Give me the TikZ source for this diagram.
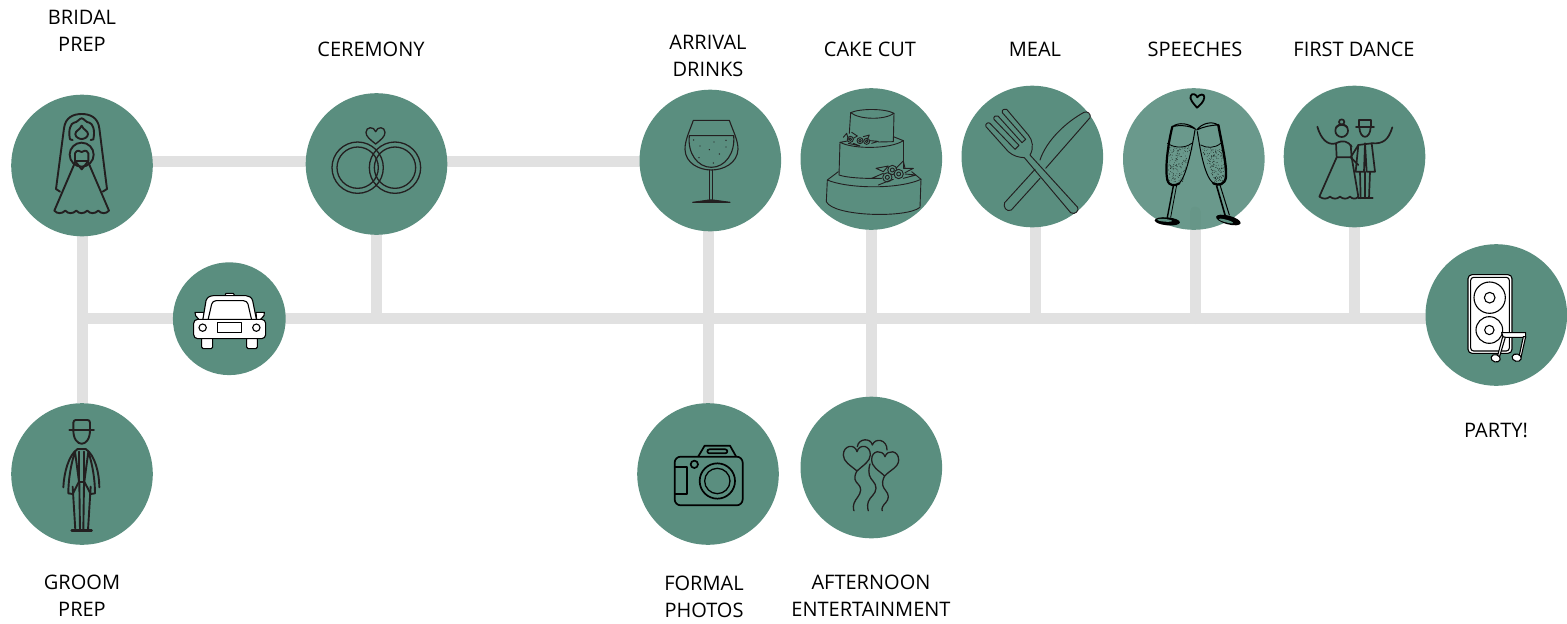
\documentclass[tikz,border=0pt]{standalone}
\usepackage{fontspec}
\setmainfont{Open Sans}
\usetikzlibrary{backgrounds}
\definecolor{bubblec}{HTML}{5A8E7F}
\definecolor{railc}{HTML}{E1E1E1}
\definecolor{inkc}{HTML}{231F20}
\tikzset{
  bubble/.style={circle,fill=bubblec,draw=none,inner sep=0pt,outer sep=0pt,minimum size=141.6pt},
  rail/.style={draw=railc,line width=11pt},
  lbl/.style={align=center,font=\fontsize{20}{27}\selectfont,text=black,inner sep=0pt},
  zoomed/.style 2 args={shift={(#1,#2)},x=0.33333pt,y=-0.33333pt},
  ink/.style={draw=inkc,line width=1.9pt,line cap=round,line join=round},
  car ink/.style={draw=black,line width=1.1pt,line join=round,fill=white}
}
\begin{document}
\begin{tikzpicture}[x=1pt,y=-1pt]
\useasboundingbox (0,0) rectangle (1567,624);
% bubbles
\node[bubble] (bride) at (82,165.5) {};
\node[bubble] (rings) at (376.5,164) {};
\node[bubble] (wine) at (710.3,160.5) {};
\node[bubble] (cake) at (871.3,159) {};
\node[bubble] (meal) at (1032.3,156.5) {};
\node[bubble,fill opacity=.9] (speech) at (1193.8,159) {};
\node[bubble] (dance) at (1354.5,156.5) {};
\node[bubble] (party) at (1496.3,315) {};
\node[bubble,minimum size=112.8pt] (car) at (229.3,318.7) {};
\node[bubble] (groom) at (82,474) {};
\node[bubble] (photo) at (708,474) {};
\node[bubble] (balloon) at (871.3,467.5) {};
% junctions
\coordinate (jleft) at (82,318.5);
\coordinate (jrings) at (376.5,318.5);
\coordinate (jwine) at (708.5,318.5);
\coordinate (jcake) at (871.5,318.5);
\coordinate (jmeal) at (1035.5,318.5);
\coordinate (jspeech) at (1195,318.5);
\coordinate (jdance) at (1354.5,318.5);
\coordinate (sstart) at (1195,212);
\begin{scope}[on background layer]
\draw[rail] ([yshift=-1pt]bride.center |- wine.center) -- ([yshift=-1pt]wine.center);
\draw[rail] (bride) -- (groom);
\draw[rail] (jleft) -- (jleft -| party.center);
\draw[rail] (jrings |- rings.center) -- (jrings);
\draw[rail] (jwine |- wine.center) -- (jwine |- photo.center);
\draw[rail] (jcake |- cake.center) -- (jcake |- balloon.center);
\draw[rail] (jmeal |- meal.center) -- (jmeal);
\draw[rail,line cap=round] (sstart) -- (jspeech);
\draw[rail] (jdance |- dance.center) -- (jdance);
\end{scope}
% labels
\node[lbl] (t1) at (82,31) {BRIDAL\\PREP};
\node[lbl] (t2) at (371,49) {CEREMONY};
\node[lbl] (t3) at (708,55.5) {ARRIVAL\\DRINKS};
\node[lbl] (t4) at (870,49) {CAKE CUT};
\node[lbl] (t5) at (1035,49) {MEAL};
\node[lbl] (t6) at (1195,49) {SPEECHES};
\node[lbl] (t7) at (1354,49) {FIRST DANCE};
\node[lbl] (t8) at (1496,430) {PARTY!};
\node[lbl] (t9) at (82,595.5) {GROOM\\PREP};
\node[lbl] (t10) at (704,596.5) {FORMAL\\PHOTOS};
\node[lbl] (t11) at (871,595.5) {AFTERNOON\\ENTERTAINMENT};
% ---- bride
\begin{scope}[zoomed={0}{80},ink]
\draw (180,335)--(168,327)--(192,145) .. controls (196,112) and (220,102) .. (245,102) .. controls (270,102) and (294,112) .. (298,145) -- (321,327)--(308,335);
\draw (218,180)--(210,178) .. controls (204,150) and (212,130) .. (222,128) .. controls (232,128) and (238,115) .. (245,115) .. controls (252,115) and (258,128) .. (268,128) .. controls (278,130) and (286,150) .. (280,178) -- (272,180);
\draw (245,137) .. controls (240,150) and (226,152) .. (226,162) .. controls (226,172) and (238,177) .. (245,177) .. controls (252,177) and (264,172) .. (264,162) .. controls (264,152) and (250,150) .. (245,137);
\draw (245,224) circle (36);
\draw (225,243) -- (225,220) .. controls (230,208) and (240,212) .. (245,216) .. controls (250,212) and (260,208) .. (265,220) -- (265,243) -- cycle;
\draw (225,243) -- (245,268) -- (265,243);
\draw (226,245) -- (163,392) .. controls (172,402) and (185,402) .. (196,392) .. controls (205,402) and (218,402) .. (229,392) .. controls (238,402) and (251,402) .. (262,392) .. controls (271,402) and (284,402) .. (295,392) .. controls (304,402) and (318,402) .. (327,392) -- (264,245);
\end{scope}
% ---- rings
\begin{scope}[zoomed={0}{80},ink,line width=1.3pt]
\draw (1073,263) circle (77) (1073,263) circle (62);
\draw (1185,263) circle (77) (1185,263) circle (62);
\draw (1127,192) .. controls (1110,178) and (1098,170) .. (1098,157) .. controls (1098,140) and (1122,138) .. (1127,155) .. controls (1132,138) and (1155,140) .. (1155,157) .. controls (1155,170) and (1144,178) .. (1127,192) -- cycle;
\end{scope}
% ---- wine
\begin{scope}[zoomed={630}{80},ink,line width=1.1pt]
\draw (190,121) -- (298,121) .. controls (310,155) and (324,180) .. (324,208) .. controls (322,250) and (280,270) .. (244,270) .. controls (208,270) and (166,250) .. (165,208) .. controls (165,180) and (178,155) .. (190,121) -- cycle;
\draw (178,167) -- (311,167) .. controls (316,220) and (285,262) .. (244,262) .. controls (203,262) and (172,220) .. (178,167) -- cycle;
\draw (238,270) -- (238,358) (248,270) -- (248,358);
\draw[fill=inkc] (188,367) -- (238,360) -- (248,360) -- (300,367) -- cycle;
\foreach \p in {(191,180),(210,198),(252,186),(288,181),(238,209),(288,201),(268,222),(207,233),(250,249)}
  \fill[inkc] \p circle (2.2);
\end{scope}
% ---- cake
\begin{scope}[zoomed={630}{80},ink,line width=.9pt]
\draw (662,98) .. controls (690,85) and (765,85) .. (792,100) .. controls (765,120) and (690,120) .. (662,98) -- cycle;
\draw (662,98) -- (658,160) (792,100) -- (790,185) -- (745,186);
\draw (658,182) -- (630,187) .. controls (670,208) and (780,208) .. (820,182) -- (790,170);
\draw (630,187) -- (627,285) .. controls (650,293) and (700,296) .. (740,295);
\draw (820,182) -- (820,265);
\draw (625,275) -- (592,300) .. controls (650,325) and (800,330) .. (873,298) -- (845,275);
\draw (592,300) -- (589,365) .. controls (610,410) and (830,415) .. (870,382) -- (873,298);
\foreach \c in {(661,178),(690,182),(710,184)} \draw[fill=bubblec] \c circle (9) \c circle (4);
\draw (640,172) -- (650,160) -- (655,178) (665,157) -- (682,168) -- (670,175) (700,170) -- (718,165) -- (712,178) (720,182) -- (745,184) -- (725,190) (655,190) -- (690,198) -- (670,190);
\foreach \c in {(772,292),(787,270),(806,282)} \draw[fill=bubblec] \c circle (14) \c circle (6);
\draw (738,265) -- (775,258) -- (760,275) -- (738,265);
\draw (798,265) -- (820,243) -- (825,265);
\draw (822,265) -- (850,265) -- (825,278);
\draw (825,282) -- (858,285) -- (820,295);
\draw (760,280) -- (725,295) -- (755,295);
\draw (745,315) -- (770,305) -- (790,298);
\end{scope}
% ---- meal
\begin{scope}[zoomed={630}{80},ink,line width=.95pt]
\draw (1230,240) .. controls (1250,180) and (1310,125) .. (1362,97) .. controls (1372,92) and (1384,102) .. (1380,113) -- (1247,265);
\draw (1215,268) -- (1124,368) .. controls (1118,380) and (1130,398) .. (1144,390) -- (1230,295);
\draw (1322,398) -- (1183,233) .. controls (1165,232) and (1150,228) .. (1135,215) -- (1068,140) .. controls (1064,132) and (1074,125) .. (1080,130) -- (1155,208) -- (1167,196) -- (1092,118) .. controls (1089,110) and (1098,104) .. (1104,108) -- (1176,188) -- (1187,178) -- (1117,98) .. controls (1114,90) and (1124,84) .. (1130,88) -- (1195,165) .. controls (1208,180) and (1212,205) .. (1200,225) -- (1343,382) .. controls (1348,392) and (1335,406) .. (1322,398) -- cycle;
\end{scope}
% ---- speeches
\begin{scope}[zoomed={1110}{80},draw=black,line cap=round,line join=round]
\draw[line width=1pt] (187,140) .. controls (205,125) and (240,130) .. (257,148) .. controls (235,135) and (205,135) .. (187,140);
\draw[line width=1pt] (325,135) .. controls (305,122) and (275,130) .. (260,150) .. controls (280,140) and (305,135) .. (325,135);
\draw[line width=.8pt] (172,190) .. controls (195,205) and (225,205) .. (245,190);
\draw[line width=.8pt] (272,195) .. controls (290,205) and (315,205) .. (332,190);
\draw[line width=2.2pt] (187,140) .. controls (172,200) and (165,270) .. (172,300) .. controls (178,320) and (195,318) .. (208,310);
\draw[line width=1pt] (208,310) .. controls (228,290) and (245,210) .. (255,150);
\draw[line width=1pt] (262,155) .. controls (272,220) and (285,290) .. (310,310);
\draw[line width=2.4pt] (325,135) .. controls (335,190) and (350,250) .. (348,290) .. controls (345,315) and (325,318) .. (310,310);
\draw[line width=1.4pt] (190,318) -- (172,412);
\draw[line width=.8pt] (200,315) -- (182,412);
\draw[line width=1.6pt] (320,318) -- (346,408);
\draw[line width=1pt] (330,315) -- (358,405);
\fill[black,rotate around={-5:(172,424)}] (172,424) ellipse (38 and 12);
\fill[bubblec,rotate around={-5:(164,421)}] (164,421) ellipse (22 and 4);
\fill[black,rotate around={-15:(355,420)}] (355,420) ellipse (38 and 13);
\fill[bubblec,rotate around={-15:(348,423)}] (348,423) ellipse (22 and 4);
\pgfmathsetseed{42}
\foreach \i in {1,...,160}{
  \pgfmathsetmacro{\yy}{200+105*rnd}
  \pgfmathsetmacro{\xc}{213-0.17*(\yy-200)}
  \pgfmathsetmacro{\xw}{36-0.12*(\yy-200)}
  \pgfmathsetmacro{\xx}{\xc+\xw*(2*rnd-1)}
  \fill[black] (\xx,\yy) circle (1);
  \pgfmathsetmacro{\yz}{205+100*rnd}
  \pgfmathsetmacro{\xd}{305+0.25*(\yz-205)}
  \pgfmathsetmacro{\xv}{30-0.1*(\yz-205)}
  \pgfmathsetmacro{\xz}{\xd+\xv*(2*rnd-1)}
  \fill[black] (\xz,\yz) circle (1);
}
\draw[line width=1.8pt] (261,83) .. controls (250,70) and (238,58) .. (242,48) .. controls (246,38) and (258,42) .. (262,52) .. controls (268,42) and (284,40) .. (283,52) .. controls (282,65) and (270,75) .. (261,83) -- cycle;
\end{scope}
% ---- first dance
\begin{scope}[zoomed={1110}{80},ink,line width=1.7pt]
\draw (695,152) circle (19);
\draw (695,126) circle (8);
\draw (678,142) .. controls (688,132) and (702,132) .. (712,142);
\draw (622,140) .. controls (632,175) and (652,198) .. (678,190) .. controls (700,178) and (715,185) .. (725,200);
\draw (678,190) -- (680,232) -- (725,232) -- (722,195);
\draw (680,232) -- (628,350) .. controls (640,358) and (650,358) .. (660,350) .. controls (670,358) and (680,358) .. (690,350) .. controls (700,358) and (710,358) .. (720,350) .. controls (728,358) and (738,358) .. (745,350);
\draw (725,232) -- (745,350);
\draw (748,142) -- (748,120) -- (782,120) -- (782,142);
\draw (738,142) -- (792,142);
\draw (748,142) .. controls (750,180) and (780,180) .. (782,142);
\draw (745,195) -- (737,275) -- (762,275) -- (765,190) -- (770,275) -- (795,275) -- (785,190) -- (745,195);
\draw (745,195) -- (722,232) -- (745,255);
\draw (785,190) .. controls (820,192) and (835,180) .. (847,142);
\draw (750,275) -- (752,355) (765,275) -- (765,355) (780,275) -- (777,355);
\draw (745,355) -- (788,355);
\end{scope}
% ---- groom
\begin{scope}[zoomed={0}{250},ink]
\draw (220,540) -- (220,518) .. controls (220,512) and (224,510) .. (228,510) -- (262,510) .. controls (266,510) and (270,512) .. (270,518) -- (270,540);
\draw (208,540) -- (282,540);
\draw (220,540) .. controls (220,595) and (270,595) .. (270,540);
\draw (233,597) -- (257,597);
\draw (233,597) .. controls (205,615) and (192,670) .. (190,712);
\draw (257,597) .. controls (285,615) and (298,670) .. (298,712);
\draw (225,605) .. controls (212,645) and (205,690) .. (205,730) -- (218,732) -- (237,695) -- (225,605);
\draw (265,605) .. controls (278,645) and (285,690) .. (285,730) -- (272,732) -- (253,695) -- (265,605);
\draw (237,605) -- (237,695) -- (253,695) -- (253,605);
\draw (218,710) -- (226,840) (238,700) -- (240,840) (252,700) -- (250,840) (272,710) -- (264,840);
\draw[line width=2.4pt] (215,842) -- (275,842);
\end{scope}
% ---- car
\begin{scope}[zoomed={0}{250},car ink]
\filldraw[rounded corners=1.5pt] (605,262) rectangle (638,296);
\filldraw[rounded corners=1.5pt] (740,262) rectangle (772,296);
\filldraw (598,210) -- (587,197) -- (585,187) -- (612,187) -- (610,210) -- cycle;
\filldraw (780,210) -- (792,197) -- (793,187) -- (768,187) -- (770,210) -- cycle;
\filldraw (675,137) -- (678,130) -- (700,130) -- (704,137) -- cycle;
\filldraw (608,212) -- (618,152) .. controls (622,142) and (628,138) .. (640,137) -- (738,137) .. controls (748,138) and (755,142) .. (758,152) -- (770,212) -- cycle;
\draw[rounded corners=1.5pt] (624,210) -- (636,158) -- (644,152) -- (735,152) -- (743,158) -- (755,210);
\filldraw[rounded corners=4pt] (581,208) rectangle (797,266);
\draw (608,233) circle (11);
\draw (769,233) circle (11);
\draw (652,218) rectangle (725,247);
\end{scope}
% ---- camera
\begin{scope}[zoomed={630}{390},ink,draw=black,line width=1.7pt]
\draw[rounded corners=6pt] (134,200) rectangle (338,346);
\draw (205,199) -- (224,167) -- (300,167) -- (318,199);
\draw[rounded corners=2pt] (232,178) rectangle (292,190);
\draw (134,232) -- (172,232) -- (172,312) -- (134,312);
\draw (193,223) circle (11);
\draw (262,273) circle (53);
\draw[line width=1.3pt] (262,273) circle (38);
\end{scope}
% ---- balloons
\begin{scope}[zoomed={630}{390},ink,line width=1.3pt]
\draw (682,170) .. controls (685,145) and (722,142) .. (727,165) .. controls (735,142) and (772,148) .. (771,180);
\draw (681,243) .. controls (660,225) and (640,215) .. (640,195) .. controls (640,165) and (675,160) .. (681,185) .. controls (688,160) and (722,165) .. (721,195) .. controls (720,215) and (700,225) .. (681,243) -- cycle;
\draw (764,258) .. controls (745,240) and (725,232) .. (725,208) .. controls (725,180) and (758,178) .. (765,200) .. controls (772,178) and (806,180) .. (806,210) .. controls (806,232) and (780,240) .. (764,258) -- cycle;
\draw plot[smooth,tension=.8] coordinates {(681,243) (675,268) (692,300) (672,340) (672,362)};
\draw plot[smooth,tension=.8] coordinates {(720,222) (718,255) (738,295) (715,335) (715,362)};
\draw plot[smooth,tension=.8] coordinates {(764,258) (758,285) (775,320) (758,350) (757,362)};
\end{scope}
% ---- speaker
\begin{scope}[zoomed={1420}{240},draw=black,line width=1.1pt,line cap=round,line join=round]
\draw[fill=white,rounded corners=4pt] (144,104) rectangle (276,340);
\draw[rounded corners=3pt] (152,112) rectangle (268,333);
\draw (209,173) circle (47);
\draw (209,173) circle (16);
\draw (208,270) circle (40);
\draw (208,270) circle (14);
\draw[fill=white] (245,278) -- (317,278) -- (317,292) -- (250,292) -- cycle;
\draw[fill=white] (248,290) -- (232,350) -- (238,352) -- (256,292) -- cycle;
\draw[fill=white] (310,290) -- (297,350) -- (303,352) -- (317,290) -- cycle;
\draw[fill=white,rotate around={-15:(227,355)}] (227,355) ellipse (14 and 11);
\draw[fill=white,rotate around={-15:(290,353)}] (290,353) ellipse (14 and 11);
\end{scope}
\end{tikzpicture}
\end{document}
